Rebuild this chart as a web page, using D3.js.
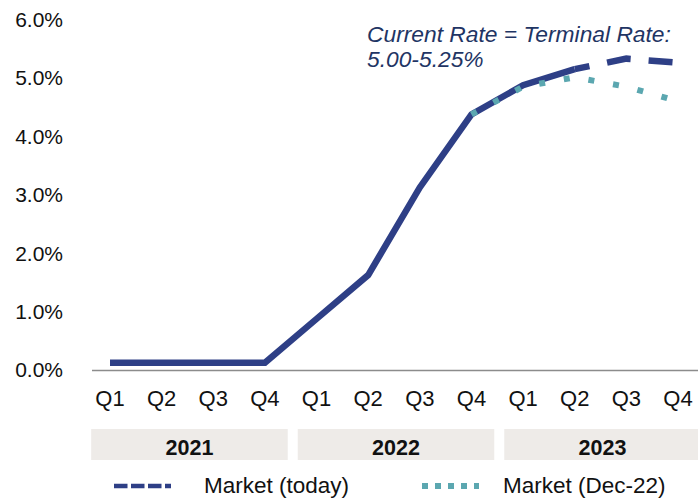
<!DOCTYPE html>
<html>
<head>
<meta charset="utf-8">
<style>
  body { margin: 0; background: #fff; }
  svg { display: block; font-family: "Liberation Sans", Arial, sans-serif; }
</style>
</head>
<body>
<svg width="698" height="498"></svg>
<script src="https://d3js.org/d3.v7.min.js"></script>
<script>

var years = ["2021", "2022", "2023"];
var quarters = ["Q1", "Q2", "Q3", "Q4"];
var yTicks = [0, 1, 2, 3, 4, 5, 6];

// fed funds path, actual then market (today)
var marketToday = [0.125, 0.125, 0.125, 0.125, 0.875, 1.625, 3.125, 4.375, 4.875, 5.15, 5.33, 5.26];
// index where the forward (dashed) part begins
var forwardFrom = 9;
// market pricing as of Dec-22, from 2022 Q4
var marketDec22 = [null, null, null, null, null, null, null, 4.375, 4.85, 5.01, 4.85, 4.6];

var svg = d3.select("svg");

var periods = [];
years.forEach(function(y) {
  quarters.forEach(function(q) { periods.push(y + " " + q); });
});

var x = d3.scalePoint()
    .domain(periods)
    .range([110, 678]);

var y = d3.scaleLinear()
    .domain([0, 6])
    .range([370, 19.5]);

var navy = "#2e3f86",
    teal = "#5ba7b0";

// y labels
svg.append("g")
  .selectAll("text")
  .data(yTicks)
  .enter().append("text")
    .attr("x", 63)
    .attr("y", function(d) { return y(d); })
    .attr("dy", "0.35em")
    .attr("text-anchor", "end")
    .attr("font-size", 21)
    .attr("fill", "#111")
    .text(function(d) { return d3.format(".1f")(d) + "%"; });

// base line
svg.append("line")
    .attr("x1", 92).attr("x2", 698)
    .attr("y1", y(0) + 0.5).attr("y2", y(0) + 0.5)
    .attr("stroke", "#8c8c8c")
    .attr("stroke-width", 1.5);

// quarter labels
svg.append("g")
  .selectAll("text")
  .data(periods)
  .enter().append("text")
    .attr("x", function(d) { return x(d); })
    .attr("y", 406)
    .attr("text-anchor", "middle")
    .attr("font-size", 22)
    .attr("fill", "#111")
    .text(function(d) { return d.split(" ")[1]; });

// year bands
var step = x.step();
var band = svg.append("g")
  .selectAll("g")
  .data(years)
  .enter().append("g");

band.append("rect")
    .attr("x", function(d) { return x(d + " Q1") - step / 2 + 7; })
    .attr("y", 429)
    .attr("width", step * 4 - 10)
    .attr("height", 31)
    .attr("fill", "#eeebe8");

band.append("text")
    .attr("x", function(d) { return (x(d + " Q1") + x(d + " Q4")) / 2 + 2; })
    .attr("y", 455)
    .attr("text-anchor", "middle")
    .attr("font-size", 21.5)
    .attr("font-weight", "bold")
    .attr("fill", "#111")
    .text(function(d) { return d; });

var line = d3.line()
    .defined(function(d) { return d.v != null; })
    .x(function(d) { return x(d.p); })
    .y(function(d) { return y(d.v); });

var todayPts = marketToday.map(function(v, i) { return {p: periods[i], v: v}; });
var decPts = marketDec22.map(function(v, i) { return {p: periods[i], v: v}; });

// actual solid
svg.append("path")
    .attr("d", line(todayPts.slice(0, forwardFrom + 1)))
    .attr("fill", "none")
    .attr("stroke", navy)
    .attr("stroke-width", 6.5)
    .attr("stroke-linejoin", "miter");

// forward dashed
svg.append("path")
    .attr("d", line(todayPts.slice(forwardFrom)))
    .attr("fill", "none")
    .attr("stroke", navy)
    .attr("stroke-width", 6.5)
    .attr("stroke-dasharray", "24,18")
    .attr("stroke-dashoffset", 9);

// Dec-22 dotted (on top)
svg.append("path")
    .attr("d", line(decPts))
    .attr("fill", "none")
    .attr("stroke", teal)
    .attr("stroke-width", 6)
    .attr("stroke-dasharray", "6,19");

// annotation
var note = svg.append("text")
    .attr("font-size", 22.8)
    .attr("font-style", "italic")
    .attr("fill", "#1f3564");
note.append("tspan").attr("x", 367).attr("y", 42).text("Current Rate = Terminal Rate:");
note.append("tspan").attr("x", 367).attr("y", 67).text("5.00-5.25%");

// legend
var legend = svg.append("g");
legend.append("line")
    .attr("x1", 114).attr("x2", 171)
    .attr("y1", 486).attr("y2", 486)
    .attr("stroke", navy)
    .attr("stroke-width", 4.5)
    .attr("stroke-dasharray", "13.5,3.5");
legend.append("text")
    .attr("x", 204).attr("y", 493)
    .attr("font-size", 22.5)
    .attr("fill", "#111")
    .text("Market (today)");
legend.append("line")
    .attr("x1", 422).attr("x2", 479)
    .attr("y1", 486).attr("y2", 486)
    .attr("stroke", teal)
    .attr("stroke-width", 6)
    .attr("stroke-dasharray", "6,7");
legend.append("text")
    .attr("x", 503).attr("y", 493)
    .attr("font-size", 22.5)
    .attr("fill", "#111")
    .text("Market (Dec-22)");

</script>
</body>
</html>
